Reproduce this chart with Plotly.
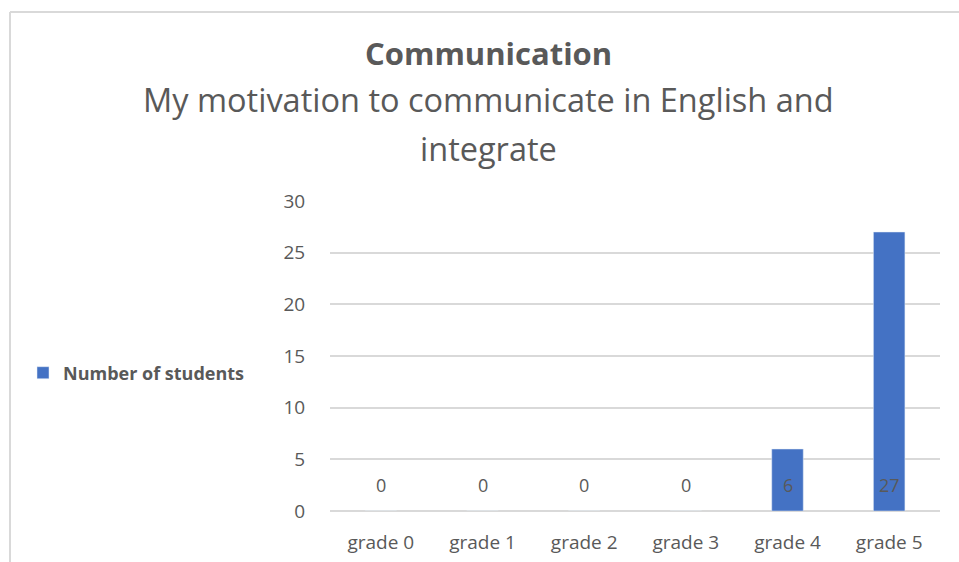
import plotly.graph_objects as go

categories = ["grade 0", "grade 1", "grade 2", "grade 3", "grade 4", "grade 5"]
students = [0, 0, 0, 0, 6, 27]
y_ticks = [0, 5, 10, 15, 20, 25, 30]

W, H = 959, 562
L, R, T, B = 330, 19, 201, 51
grey = "#595959"
font = "Open Sans"

def px_to_paper_x(px):
    return (px - L) / (W - L - R)

def px_to_paper_y(py):
    return (H - B - py) / (H - T - B)

fig = go.Figure()

fig.add_trace(go.Bar(
    x=categories,
    y=students,
    name="Number of students",
    marker=dict(color="#4472C4"),
))

# value labels sitting just above the category axis
for cat, val in zip(categories, students):
    fig.add_annotation(
        x=cat, y=0, xref="x", yref="y",
        text=str(val), showarrow=False,
        yanchor="bottom", yshift=12,
        font=dict(family=font, size=18, color=grey),
    )

# title lines
title_x = px_to_paper_x(488)
fig.add_annotation(x=title_x, y=px_to_paper_y(53), xref="paper", yref="paper",
                   text="<b>Communication</b>", showarrow=False,
                   xanchor="center", yanchor="middle",
                   font=dict(family=font, size=31, color=grey))
fig.add_annotation(x=title_x, y=px_to_paper_y(100), xref="paper", yref="paper",
                   text="My motivation to communicate in English and", showarrow=False,
                   xanchor="center", yanchor="middle",
                   font=dict(family=font, size=32.5, color=grey))
fig.add_annotation(x=title_x, y=px_to_paper_y(148), xref="paper", yref="paper",
                   text="integrate", showarrow=False,
                   xanchor="center", yanchor="middle",
                   font=dict(family=font, size=32.5, color=grey))

# chart frame (top and left edges visible)
fig.add_shape(type="line", xref="paper", yref="paper",
              x0=px_to_paper_x(10), x1=px_to_paper_x(W + 5),
              y0=px_to_paper_y(12), y1=px_to_paper_y(12),
              line=dict(color="#d9d9d9", width=2))
fig.add_shape(type="line", xref="paper", yref="paper",
              x0=px_to_paper_x(10), x1=px_to_paper_x(10),
              y0=px_to_paper_y(12), y1=px_to_paper_y(H + 5),
              line=dict(color="#d9d9d9", width=2))

fig.update_layout(
    width=W, height=H,
    margin=dict(l=L, r=R, t=T, b=B),
    paper_bgcolor="white",
    plot_bgcolor="white",
    bargap=0.69,
    showlegend=True,
    legend=dict(
        xref="container", yref="container",
        x=23 / W, y=1 - 373 / H,
        xanchor="left", yanchor="middle",
        font=dict(family=font, size=18, color=grey, weight="bold"),
        itemwidth=30,
    ),
    xaxis=dict(
        tickfont=dict(family=font, size=19, color=grey),
        showgrid=False,
        showline=False,
        automargin=False,
        ticks="outside", ticklen=14, tickcolor="rgba(0,0,0,0)",
    ),
    yaxis=dict(
        range=[0, 30],
        tickvals=y_ticks,
        tickfont=dict(family=font, size=19, color=grey),
        gridcolor="#d9d9d9", gridwidth=2,
        zeroline=True, zerolinecolor="#d9d9d9", zerolinewidth=2,
        automargin=False,
        ticks="outside", ticklen=20, tickcolor="rgba(0,0,0,0)",
    ),
)

fig.write_html("out.html", config={"displayModeBar": False},
               post_script="document.body.style.margin='0';")
